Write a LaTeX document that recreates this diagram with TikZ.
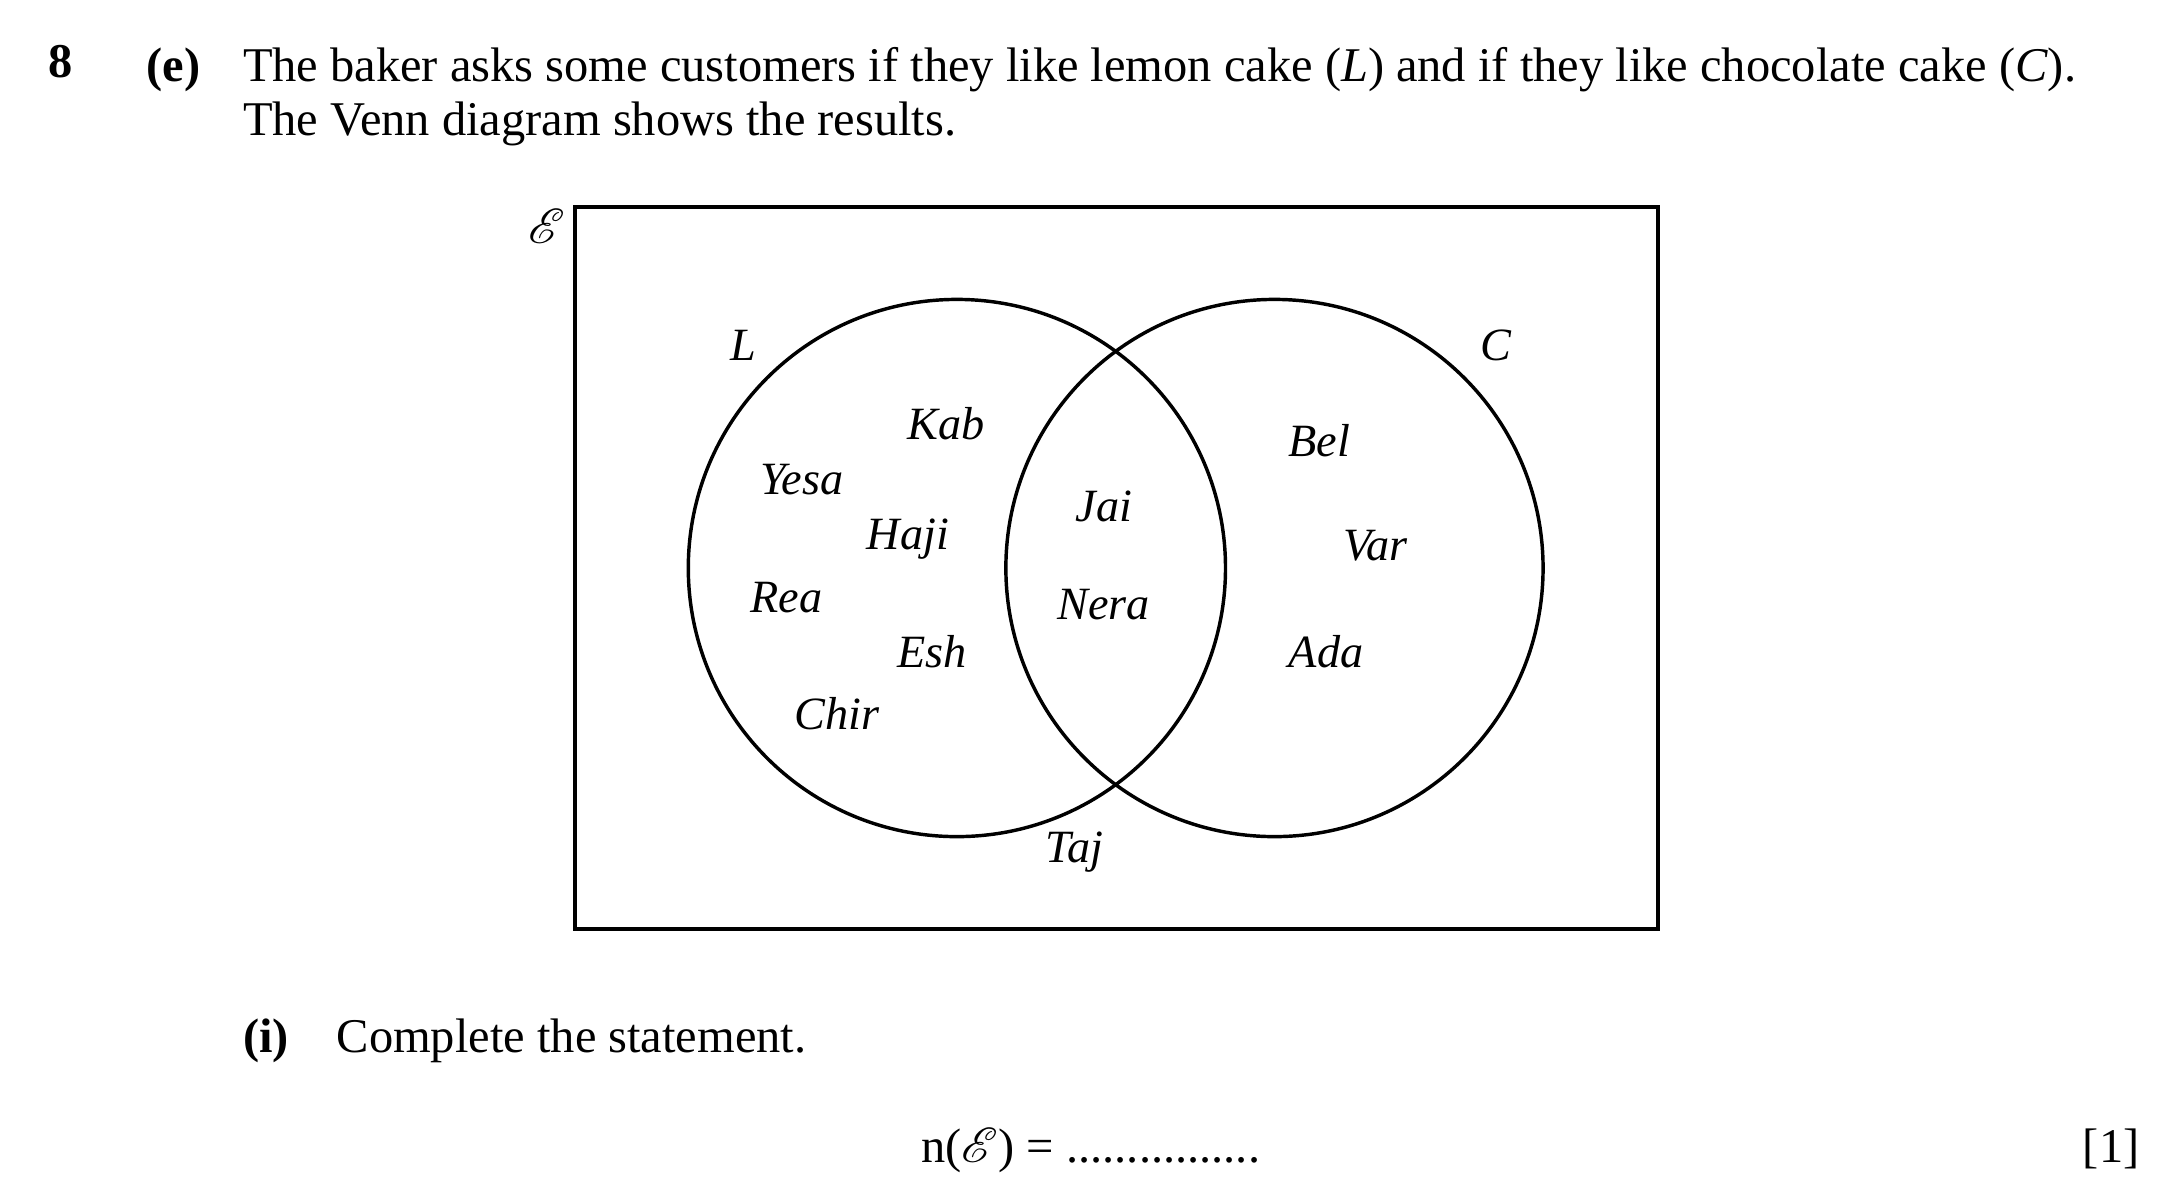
\documentclass[tikz,border=0pt]{standalone}
\usepackage{fontspec}
\usepackage{mathrsfs}
\setmainfont{Liberation Serif}
\begin{document}
\begin{tikzpicture}[x=0.01cm,y=-0.01cm,
  txt/.style={font=\fontsize{9.85}{11}\selectfont,inner sep=0pt},
  nm/.style={font=\fontsize{9.4}{11}\selectfont\itshape,inner sep=0pt},
  ln/.style={line width=0.7pt}]
\useasboundingbox (0,0) rectangle (1549,847);
\node[txt,font=\fontsize{9.85}{11}\selectfont\bfseries] (q) at (43,44) {8};
\node[txt,anchor=base west] (e0) at (104,58) {\textbf{(e)}};
\node[txt,anchor=base west] (e) at (173,58) {The baker asks some customers if they like lemon cake (\textit{L}) and if they like chocolate cake (\textit{C}).};
\node[txt,anchor=base west] (e2) at (173,97) {The Venn diagram shows the results.};
\node[txt] (U) at (391,162) {$\mathscr{E}$};
\draw[ln] (411,148) rectangle (1185,664);
\draw[ln] (684,406) circle[radius=192];
\draw[ln] (911,406) circle[radius=192];
\node[nm] (L) at (531,247) {L};
\node[nm] (C) at (1069,247) {C};
\node[nm] (a1) at (676,303) {Kab};
\node[nm] (a2) at (573,343) {Yesa};
\node[nm] (a3) at (649,385) {Haji};
\node[nm] (a4) at (562,427) {Rea};
\node[nm] (a5) at (666,466) {Esh};
\node[nm] (a6) at (598,510) {Chir};
\node[nm] (b1) at (789,362) {Jai};
\node[nm] (b2) at (789,432) {Nera};
\node[nm] (c1) at (943,315) {Bel};
\node[nm] (c2) at (983,390) {Var};
\node[nm] (c3) at (948,466) {Ada};
\node[nm] (t) at (768,609) {Taj};
\node[txt,anchor=base west] (i0) at (173,752) {\textbf{(i)}};
\node[txt,anchor=base west] (i) at (240,752) {Complete the statement.};
\node[txt,anchor=base west] (n) at (658,831) {n($\mathscr{E}$) = ................};
\node[txt,anchor=base east] (m) at (1530,831) {[1]};
\end{tikzpicture}
\end{document}
